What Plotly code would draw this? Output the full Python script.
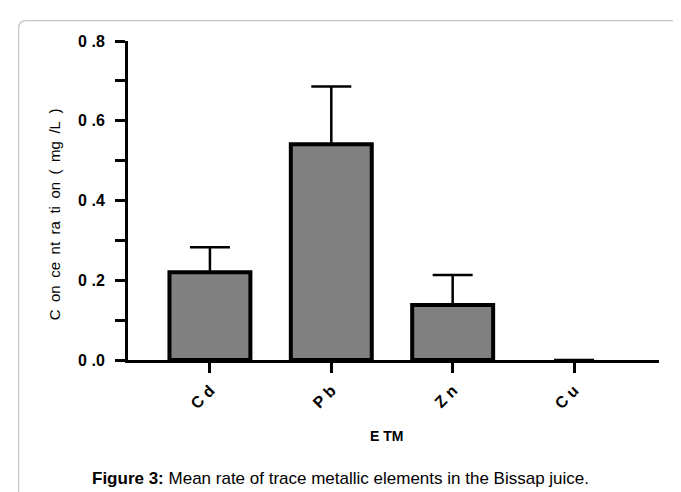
import plotly.graph_objects as go

categories = ["C d", "P b", "Z n", "C u"]
means = [0.22, 0.541, 0.138, 0.0]
errors_up = [0.063, 0.145, 0.075, 0.0]
y_tickvals = [0.0, 0.2, 0.4, 0.6, 0.8]
y_ticktext = ["0 .0", "0 .2", "0 .4", "0 .6", "0 .8"]

FONT = "Liberation Sans, Arial, sans-serif"

# plot area in pixels
W, H = 681, 492
L, R, T, B = 119.5, 30, 32.5, 140
pw, ph = W - L - R, H - T - B

def px(x):
    return (x - L) / pw

def py(y):
    return (H - B - y) / ph

fig = go.Figure()
fig.add_trace(go.Bar(
    x=categories, y=means,
    width=0.667,
    marker=dict(color="#808080",
                line=dict(color="black", width=[4 if v > 0 else 0 for v in means])),
    error_y=dict(type="data", symmetric=False,
                 array=[e if m > 0 else None for e, m in zip(errors_up, means)],
                 arrayminus=[0 if m > 0 else None for m in means],
                 color="black", thickness=2.5, width=20),
))

# frame around figure
lx, ty, rx, by = px(10), py(12), px(695), py(500)
dx, dy = 8 / pw, 8 / ph
frame_path = (f"M {lx},{by} L {lx},{ty - dy} Q {lx},{ty} {lx + dx},{ty} "
              f"L {rx},{ty}")
fig.add_shape(type="path", path=frame_path, xref="paper", yref="paper",
              line=dict(color="#c4c4c4", width=1.2), layer="below")

sp = "\u2002"
ytitle = sp.join(["C", "on", "ce", "nt", "ra", "ti", "on", "(", "mg", "/L", ")"])
fig.add_annotation(text=ytitle, textangle=-90,
                   x=px(35), y=py(206), xref="paper", yref="paper",
                   showarrow=False, font=dict(family=FONT, size=15, color="black"))
fig.add_annotation(text="<b>E TM</b>", x=px(378), y=py(438), xref="paper", yref="paper",
                   showarrow=False, font=dict(family=FONT, size=14, color="black"))
fig.add_annotation(text="<b>Figure 3:</b> Mean rate of trace metallic elements in the Bissap juice.",
                   x=px(332), y=py(482), xref="paper", yref="paper",
                   showarrow=False, font=dict(family=FONT, size=17, color="black"))

fig.update_layout(
    width=W, height=H,
    margin=dict(l=L, r=R, t=T, b=B, pad=0),
    paper_bgcolor="white", plot_bgcolor="white",
    showlegend=False,
    xaxis=dict(
        range=[-0.675, 3.70], showgrid=False, zeroline=False,
        showline=True, linecolor="black", linewidth=3,
        ticks="outside", ticklen=10, tickwidth=3, tickcolor="black",
        tickangle=-45, ticklabelstandoff=2,
        tickfont=dict(family=FONT, size=16, color="black", weight="bold"),
    ),
    yaxis=dict(
        range=[0, 0.8], showgrid=False, zeroline=False,
        showline=True, linecolor="black", linewidth=3,
        tickmode="array", tickvals=y_tickvals, ticktext=y_ticktext,
        ticks="outside", ticklen=10, tickwidth=3, tickcolor="black",
        ticklabelstandoff=7,
        tickfont=dict(family=FONT, size=16, color="black", weight="bold"),
        minor=dict(dtick=0.1, tick0=0, ticks="outside", ticklen=10,
                   tickwidth=3, tickcolor="black", showgrid=False),
    ),
)

fig.write_html("out.html")
